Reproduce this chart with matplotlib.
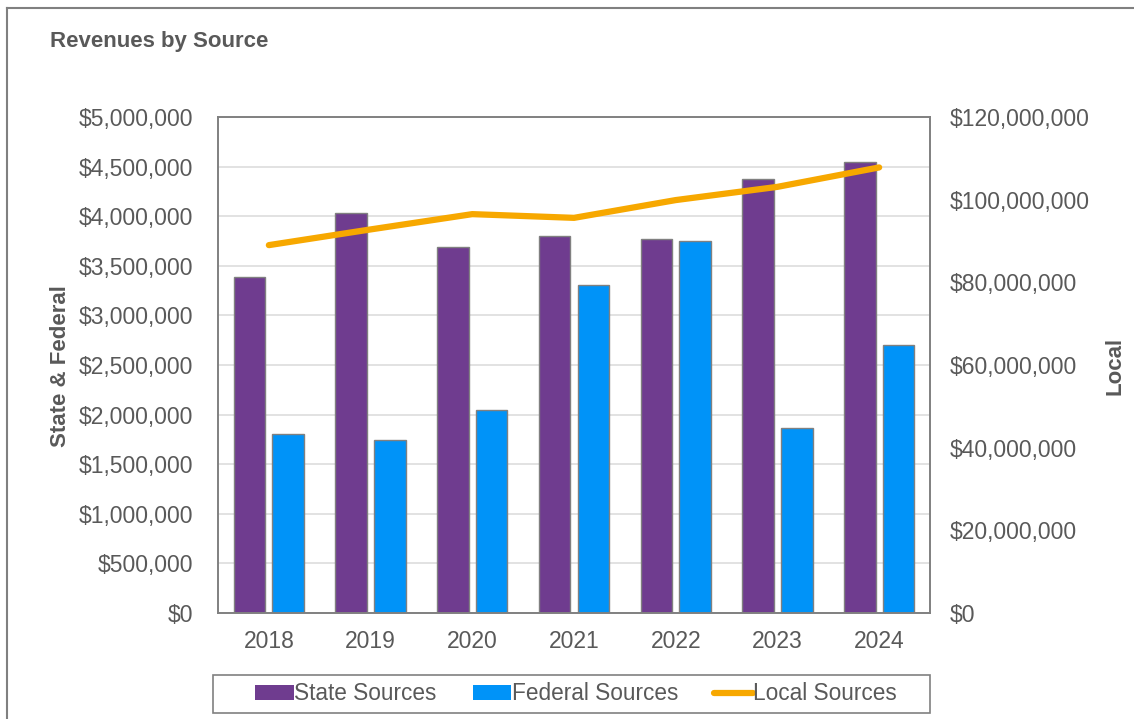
import numpy as np
import matplotlib.pyplot as plt
from matplotlib.lines import Line2D
from matplotlib.patches import Rectangle
from matplotlib.ticker import FuncFormatter, MultipleLocator

plt.rcParams['font.family'] = ['Liberation Sans', 'DejaVu Sans']

years = ['2018', '2019', '2020', '2021', '2022', '2023', '2024']
state = [3390000, 4030000, 3690000, 3800000, 3770000, 4375000, 4550000]
federal = [1800000, 1745000, 2050000, 3310000, 3750000, 1860000, 2700000]
local = [89000000, 92800000, 96500000, 95600000, 99900000, 103100000, 107800000]

PURPLE = '#6f3c8f'
BLUE = '#0093f8'
ORANGE = '#f7a800'
TEXT = '#595959'
EDGE = '#808080'


def dollars(v, pos):
    return '${:,.0f}'.format(v)


fig = plt.figure(figsize=(11.34, 7.19), dpi=100)
ax = fig.add_axes([218 / 1134, 1 - 613 / 719, 712 / 1134, 496 / 719])
ax2 = ax.twinx()

x = np.arange(len(years))
ax.bar(x - 0.19, state, width=0.31, color=PURPLE, edgecolor=EDGE, linewidth=1, label='State Sources')
ax.bar(x + 0.19, federal, width=0.31, color=BLUE, edgecolor=EDGE, linewidth=1, label='Federal Sources')
ax2.plot(x, local, color=ORANGE, linewidth=4.5, solid_capstyle='round', label='Local Sources')

ax.set_xlim(-0.5, len(years) - 0.5)
ax.set_ylim(0, 5000000)
ax2.set_ylim(0, 120000000)
ax.yaxis.set_major_locator(MultipleLocator(500000))
ax2.yaxis.set_major_locator(MultipleLocator(20000000))
ax.yaxis.set_major_formatter(FuncFormatter(dollars))
ax2.yaxis.set_major_formatter(FuncFormatter(dollars))
ax.set_xticks(x)
ax.set_xticklabels(years)

ax.set_axisbelow(True)
ax.grid(axis='y', color='#dddddd', linewidth=1.2)
for a in (ax, ax2):
    for s in a.spines.values():
        s.set_color(EDGE)
        s.set_linewidth(1.2)
ax.tick_params(axis='y', length=0, pad=18, labelsize=16.5, labelcolor=TEXT)
ax.tick_params(axis='x', length=0, pad=12, labelsize=16.5, labelcolor=TEXT)
ax2.tick_params(axis='y', length=0, pad=14, labelsize=16.5, labelcolor=TEXT)

# titles and axis names
fig.text(50 / 1134, 1 - 42 / 719, 'Revenues by Source', ha='left', va='center',
         fontsize=16, fontweight='bold', color=TEXT)
fig.text(60 / 1134, 1 - 366 / 719, 'State & Federal', rotation=90, ha='center', va='center',
         fontsize=16, fontweight='bold', color=TEXT)
fig.text(1115 / 1134, 1 - 366 / 719, 'Local', rotation=90, ha='center', va='center',
         fontsize=16, fontweight='bold', color=TEXT)

# outer border
fig.add_artist(Line2D([7 / 1134, 7 / 1134], [0, 1 - 8 / 719], transform=fig.transFigure, color=EDGE, linewidth=1.5))
fig.add_artist(Line2D([7 / 1134, 1], [1 - 8 / 719, 1 - 8 / 719], transform=fig.transFigure, color=EDGE, linewidth=1.5))

# legend box
fig.add_artist(Rectangle((213 / 1134, 1 - 713 / 719), 717 / 1134, 38 / 719, transform=fig.transFigure,
                         facecolor='none', edgecolor=EDGE, linewidth=1.2))
h1, l1 = ax.get_legend_handles_labels()
h2, l2 = ax2.get_legend_handles_labels()
leg = fig.legend(h1 + h2, l1 + l2, loc='center', ncol=3,
                 bbox_to_anchor=(576 / 1134, 1 - 694 / 719),
                 fontsize=16.3, frameon=False,
                 handlelength=1.7, handleheight=0.66, handletextpad=0.02,
                 columnspacing=1.6, borderpad=0.2)
for t in leg.get_texts():
    t.set_color(TEXT)
for p in leg.get_patches():
    p.set_edgecolor('none')

fig.savefig('out.png', dpi=100)
